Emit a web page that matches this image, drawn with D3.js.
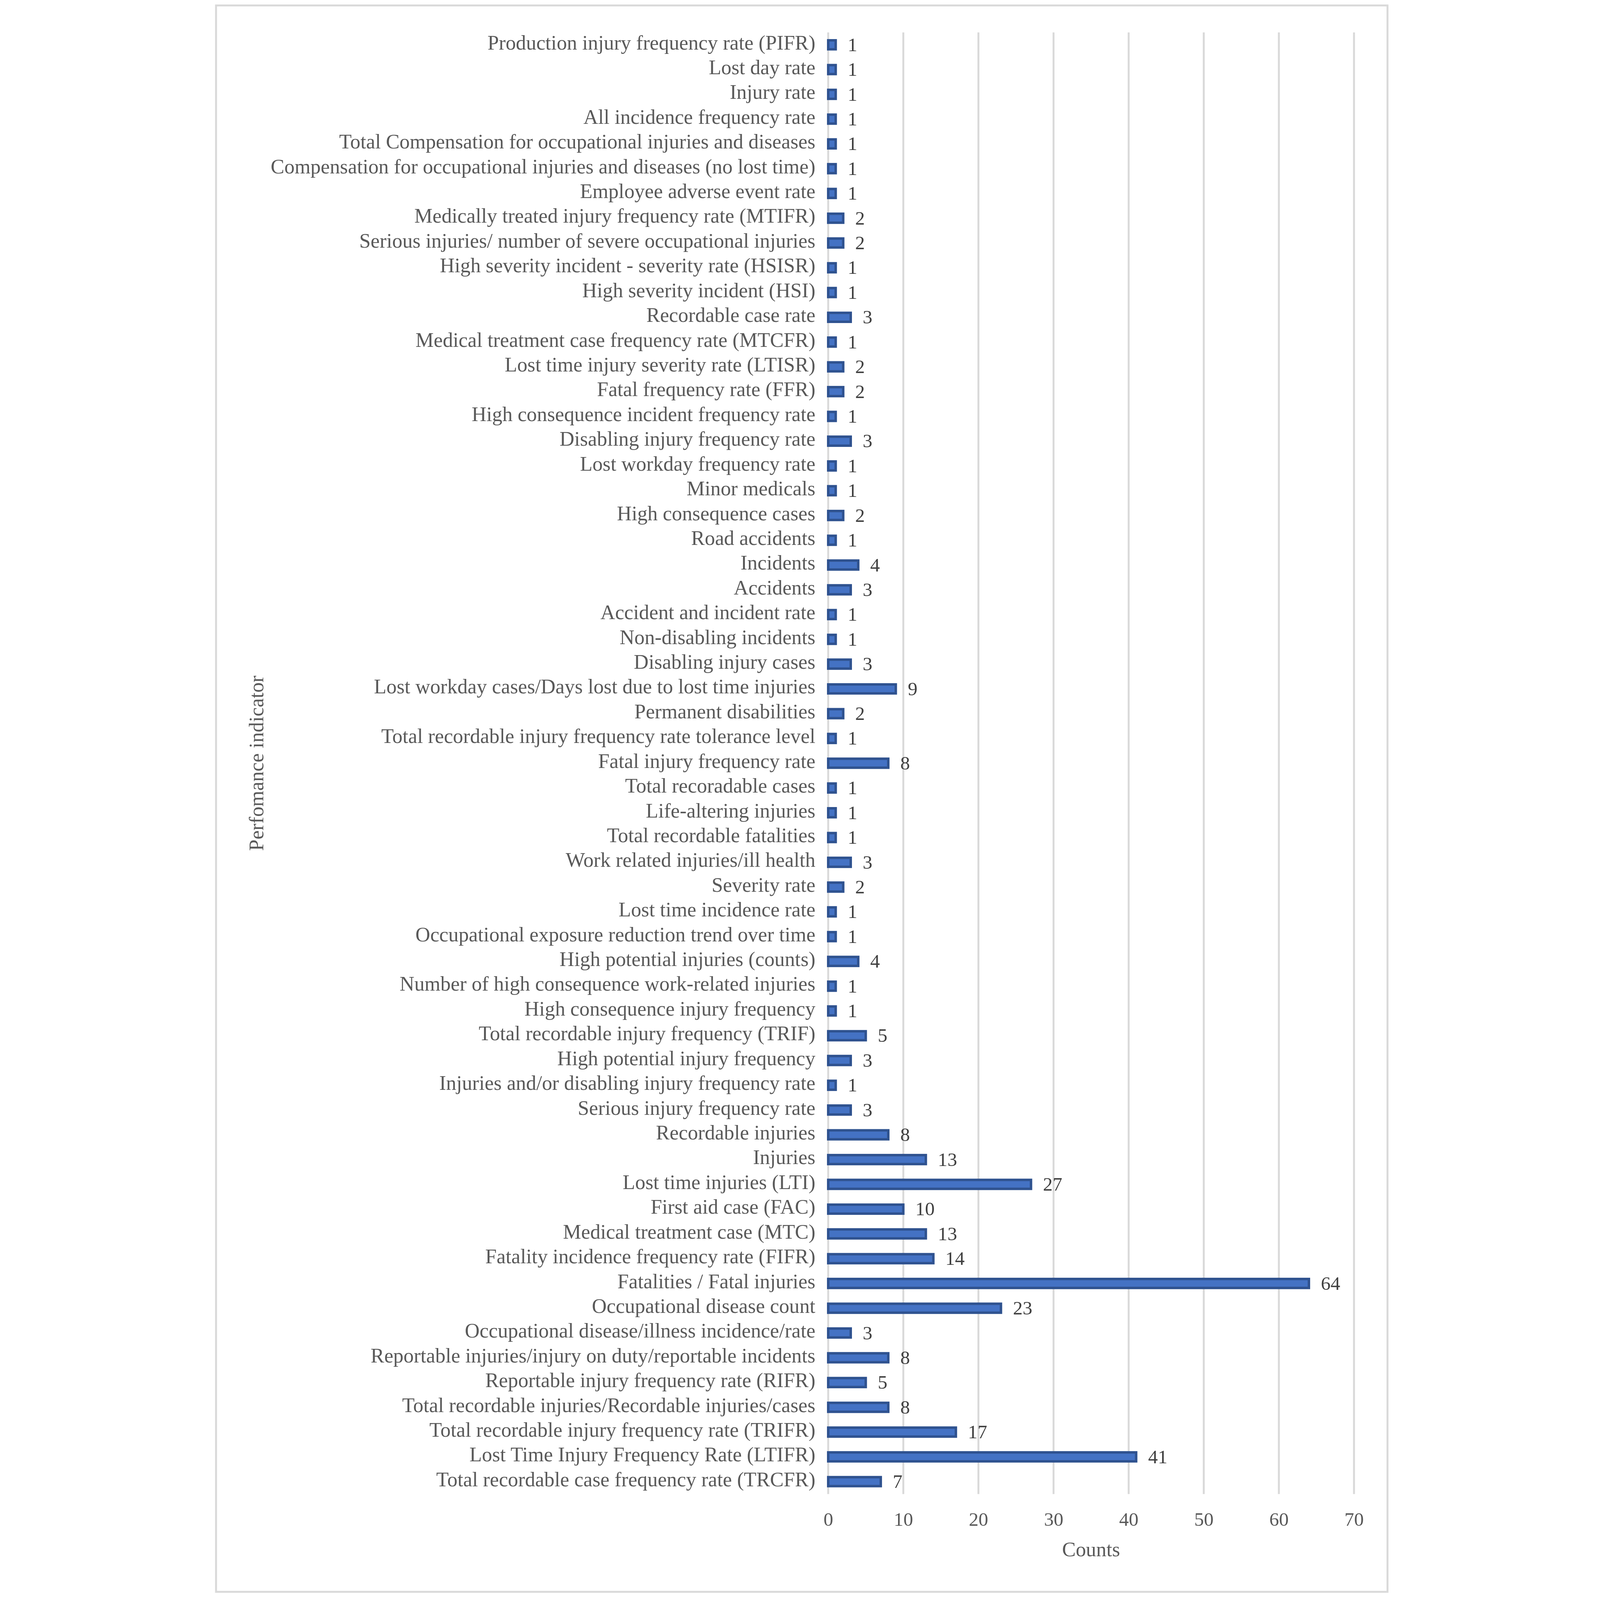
<!DOCTYPE html>
<html><head><meta charset="utf-8">
<script src="https://cdn.jsdelivr.net/npm/d3@7/dist/d3.min.js"></script>
<style>html,body{margin:0;padding:0;background:#fff;overflow:hidden;}
#chart{display:block;width:100vw;height:100vh;}</style>
</head><body>
<svg id="chart" viewBox="0 0 4331 5873" preserveAspectRatio="xMidYMid meet"></svg>
<script>
const categories = [
"Production injury frequency rate (PIFR)",
"Lost day rate",
"Injury rate",
"All incidence frequency rate",
"Total Compensation for occupational injuries and diseases",
"Compensation for occupational injuries and diseases (no lost time)",
"Employee adverse event rate",
"Medically treated injury frequency rate (MTIFR)",
"Serious injuries/ number of severe occupational injuries ",
"High severity incident - severity rate (HSISR)",
"High severity incident (HSI)",
"Recordable case rate",
"Medical treatment case frequency rate (MTCFR)",
"Lost time injury severity rate (LTISR)",
"Fatal frequency rate (FFR)",
"High consequence incident frequency rate",
"Disabling injury frequency rate",
"Lost workday frequency rate",
"Minor medicals",
"High consequence cases",
"Road accidents",
"Incidents",
"Accidents",
"Accident and incident rate",
"Non-disabling incidents",
"Disabling injury cases",
"Lost workday cases/Days lost due to lost time injuries",
"Permanent disabilities",
"Total recordable injury frequency rate tolerance level",
"Fatal injury frequency rate",
"Total recoradable cases",
"Life-altering injuries",
"Total recordable fatalities",
"Work related injuries/ill health",
"Severity rate",
"Lost time incidence rate",
"Occupational exposure reduction trend over time",
"High potential injuries (counts)",
"Number of high consequence work-related injuries",
"High consequence injury frequency",
"Total recordable injury frequency (TRIF)",
"High potential injury frequency",
"Injuries and/or disabling injury frequency rate",
"Serious injury frequency rate",
"Recordable injuries",
"Injuries ",
"Lost time injuries (LTI)",
"First aid case (FAC)",
"Medical treatment case (MTC)",
"Fatality incidence frequency rate (FIFR)",
"Fatalities / Fatal injuries",
"Occupational disease count",
"Occupational disease/illness incidence/rate",
"Reportable injuries/injury on duty/reportable incidents",
"Reportable injury frequency rate (RIFR)",
"Total recordable injuries/Recordable injuries/cases",
"Total recordable injury frequency rate (TRIFR) ",
"Lost Time Injury Frequency Rate (LTIFR)",
"Total recordable case frequency rate (TRCFR)"
];
const counts = [1,1,1,1,1,1,1,2,2,1,1,3,1,2,2,1,3,1,1,2,1,4,3,1,1,3,9,2,1,8,1,1,1,3,2,1,1,4,1,1,5,3,1,3,8,13,27,10,13,14,64,23,3,8,5,8,17,41,7];
const xTicks = [0,10,20,30,40,50,60,70];
const xTitle = "Counts";
const yTitle = "Perfomance indicator";

const svg = d3.select("#chart");
const plot = {left: 2269, right: 4199, top: 119, bottom: 5484};
const serif = "'Liberation Serif', 'Times New Roman', serif";

// outer frame
svg.append("rect").attr("x", 22).attr("y", 20).attr("width", 4300).attr("height", 5823)
  .attr("fill", "#fff").attr("stroke", "#D9D9D9").attr("stroke-width", 7);

const x = d3.scaleLinear().domain([0, 70]).range([plot.left, plot.right]);
const y = d3.scaleBand().domain(categories).range([plot.top, plot.bottom])
  .paddingInner(0.637).paddingOuter(0.3185);

// gridlines
svg.append("g").selectAll("line").data(xTicks).join("line")
  .attr("x1", d => x(d)).attr("x2", d => x(d))
  .attr("y1", plot.top).attr("y2", plot.bottom)
  .attr("stroke", "#D9D9D9").attr("stroke-width", 7);

// x tick labels via axis
const xAxis = d3.axisBottom(x).tickValues(xTicks).tickSize(0).tickPadding(0);
const gx = svg.append("g").attr("transform", `translate(0,${plot.bottom})`).call(xAxis);
gx.select(".domain").remove();
gx.selectAll("text").attr("font-family", serif).attr("font-size", 71).attr("fill", "#595959")
  .attr("dy", null).attr("y", 117);

// category labels via axis
const yAxis = d3.axisLeft(y).tickSize(0).tickPadding(0);
const gy = svg.append("g").attr("transform", `translate(${plot.left - 47},0)`).call(yAxis);
gy.select(".domain").remove();
gy.selectAll("text").attr("font-family", serif).attr("font-size", 75).attr("fill", "#595959")
  .attr("dy", null).attr("y", 17).attr("x", 0).attr("text-anchor", "end");

// bars
const bw = y.bandwidth();
svg.append("g").selectAll("rect").data(categories).join("rect")
  .attr("x", plot.left)
  .attr("y", d => y(d))
  .attr("width", (d, i) => x(counts[i]) - x(0))
  .attr("height", bw)
  .attr("fill", "#4472C4").attr("stroke", "#2F528F").attr("stroke-width", 9);

// value labels
svg.append("g").selectAll("text").data(categories).join("text")
  .attr("x", (d, i) => x(counts[i]) + 44)
  .attr("y", d => y(d) + bw / 2 + 23)
  .attr("font-family", serif).attr("font-size", 71).attr("fill", "#404040")
  .text((d, i) => counts[i]);

// axis titles
svg.append("text").attr("x", (plot.left + plot.right) / 2).attr("y", 5713)
  .attr("text-anchor", "middle").attr("font-family", serif).attr("font-size", 75)
  .attr("fill", "#595959").text(xTitle);
svg.append("text")
  .attr("transform", `translate(195,${(plot.top + plot.bottom) / 2}) rotate(-90)`)
  .attr("text-anchor", "middle").attr("font-family", serif).attr("font-size", 75)
  .attr("fill", "#595959").text(yTitle);
</script>
</body></html>
